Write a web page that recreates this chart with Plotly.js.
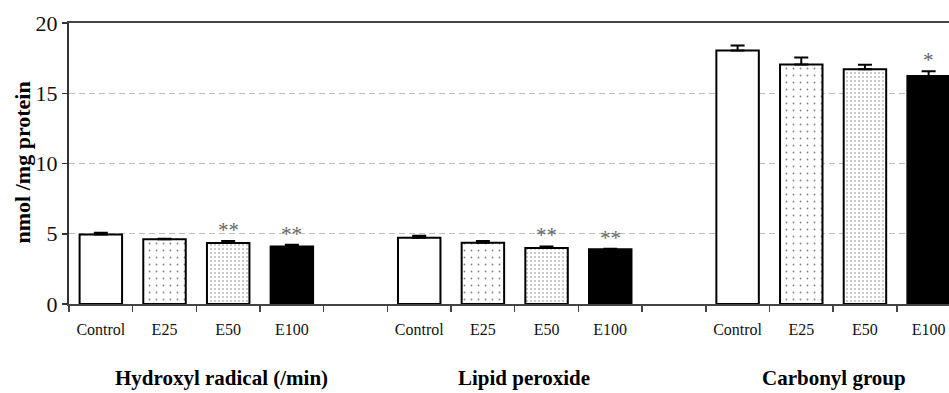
<!DOCTYPE html>
<html>
<head>
<meta charset="utf-8">
<script src="https://cdn.plot.ly/plotly-3.0.1.min.js"></script>
<style>html,body{margin:0;padding:0;background:#fff;overflow:hidden}#chart{width:949px;height:393px}</style>
</head>
<body>
<div id="chart"></div>
<script>
// ---- data ----
const treatments = ['Control', 'E25', 'E50', 'E100'];
const groups = ['Hydroxyl radical (/min)', 'Lipid peroxide', 'Carbonyl group'];
const controlVals = [4.95, 4.72, 18.05];
const controlErr  = [0.13, 0.14, 0.35];
const e25Vals = [4.60, 4.36, 17.05];
const e25Err  = [0.05, 0.12, 0.50];
const e50Vals = [4.34, 3.99, 16.70];
const e50Err  = [0.14, 0.11, 0.33];
const e100Vals = [4.10, 3.89, 16.23];
const e100Err  = [0.12, 0.05, 0.33];
const significance = [
  ['', '', '**', '**'],
  ['', '', '**', '**'],
  ['', '', '', '*']
];
const yTicks = [0, 5, 10, 15, 20];

// ---- layout helpers ----
const SLOTS_PER_GROUP = treatments.length + 1;
const xPos = (g, t) => g * SLOTS_PER_GROUP + t;
const serif = '"Liberation Serif", "Times New Roman", serif';

const series = [
  {name: 'Control', vals: controlVals, err: controlErr, color: '#ffffff', pattern: null},
  {name: 'E25', vals: e25Vals, err: e25Err, color: '#ffffff', pattern: {shape: '.', size: 7, solidity: 0.05, fgcolor: '#000', bgcolor: '#ffffff', fillmode: 'overlay'}},
  {name: 'E50', vals: e50Vals, err: e50Err, color: '#ffffff', pattern: {shape: '.', size: 4, solidity: 0.13, fgcolor: '#111', bgcolor: '#ffffff', fillmode: 'overlay'}},
  {name: 'E100', vals: e100Vals, err: e100Err, color: '#000000', pattern: null}
];

const traces = series.map((s, t) => {
  const marker = {color: s.color, line: {color: '#000', width: 2}};
  if (s.pattern) marker.pattern = s.pattern;
  return {
    type: 'bar',
    name: s.name,
    x: groups.map((_, g) => xPos(g, t)),
    y: s.vals,
    width: 0.667,
    marker: marker,
    error_y: {type: 'data', symmetric: false, array: s.err, arrayminus: s.err.map(() => 0),
              color: '#000', thickness: 2, width: 7},
    hoverinfo: 'x+y',
    showlegend: false
  };
});

const tickVals = [], tickText = [];
groups.forEach((_, g) => treatments.forEach((t, i) => { tickVals.push(xPos(g, i)); tickText.push(t); }));

const annotations = [];
series.forEach((s, t) => {
  groups.forEach((_, g) => {
    const txt = significance[g][t];
    if (txt) annotations.push({
      x: xPos(g, t), y: s.vals[g] + s.err[g], xref: 'x', yref: 'y',
      text: txt, showarrow: false, yanchor: 'bottom', yshift: -3,
      font: {family: serif, size: 21, color: '#666'}
    });
  });
});
const groupTitleX = [1.89, 6.65, 11.51];
groups.forEach((name, g) => annotations.push({
  x: groupTitleX[g], y: -0.264, xref: 'x', yref: 'paper', text: '<b>' + name + '</b>',
  showarrow: false, yanchor: 'middle', font: {family: serif, size: 21, color: '#000'}
}));
annotations.push({
  x: -0.053, y: 0.505, xref: 'paper', yref: 'paper', text: '<b>nmol /mg protein</b>',
  textangle: -90, showarrow: false, xanchor: 'center', yanchor: 'middle',
  font: {family: serif, size: 22, color: '#000'}
});

const layout = {
  width: 949, height: 393,
  margin: {l: 69, r: 0, t: 23, b: 89, pad: 0},
  paper_bgcolor: '#fff', plot_bgcolor: '#fff',
  barmode: 'overlay',
  xaxis: {
    range: [-0.5, 13.32], showgrid: false, zeroline: false,
    showline: true, linecolor: '#444', linewidth: 2, mirror: true,
    tickmode: 'array', tickvals: tickVals, ticktext: tickText, ticks: '',
    ticklabelstandoff: 10,
    tickfont: {family: serif, size: 16, color: '#111'},
    minor: {tick0: 0.5, dtick: 1, ticks: 'outside', ticklen: 6, tickwidth: 1.5, tickcolor: '#444', showgrid: false}
  },
  yaxis: {
    range: [0, 20], tickmode: 'array', tickvals: yTicks,
    showgrid: true, gridcolor: '#bdbdbd', gridwidth: 1, griddash: '6px,4px',
    zeroline: false, showline: true, linecolor: '#333', linewidth: 2,
    ticks: 'outside', ticklen: 5, tickwidth: 1.5, tickcolor: '#333',
    tickfont: {family: serif, size: 22, color: '#111'}
  },
  annotations: annotations
};

Plotly.newPlot('chart', traces, layout, {displayModeBar: false, staticPlot: true});
</script>
</body>
</html>
